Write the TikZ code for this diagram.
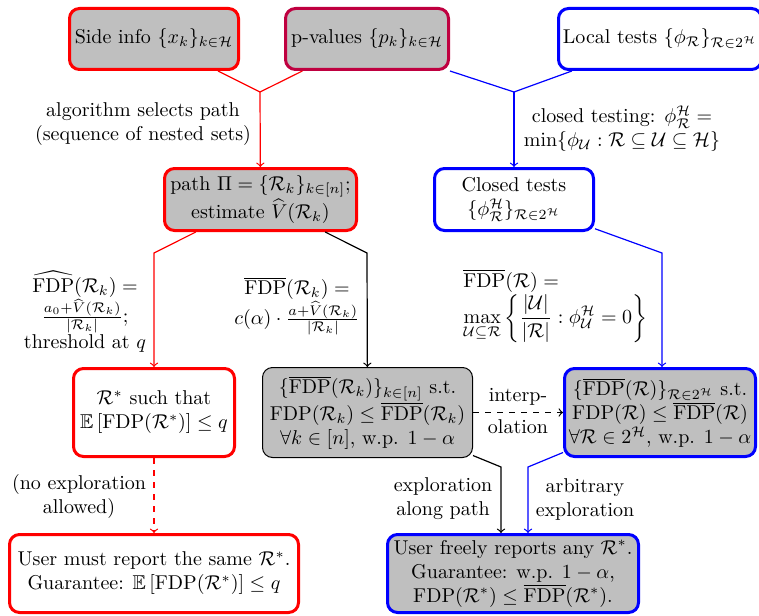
\documentclass[tikz,border=0pt]{standalone}
\usepackage{amsmath,amssymb}
\begin{document}
\begin{tikzpicture}[x=0.5pt,y=-0.5pt,
  box/.style={rectangle,rounded corners=5pt,line width=1.5pt,align=center,inner sep=2pt},
  redbox/.style={box,draw=red},
  bluebox/.style={box,draw=blue},
  gfill/.style={fill=lightgray},
  conn/.style={semithick},
  lbl/.style={align=center,inner sep=0pt}
]
\clip (0,0) rectangle (759,615);
% boxes
\node[redbox,gfill,minimum width=84.5pt,minimum height=30.5pt] (si) at (154,39)
  {Side info $\{x_k\}_{k\in\mathcal H}$};
\node[box,draw=purple,gfill,minimum width=81.5pt,minimum height=30.5pt] (pv) at (367,39)
  {p-values $\{p_k\}_{k\in\mathcal H}$};
\node[bluebox,fill=white,minimum width=101.5pt,minimum height=30.5pt] (lt) at (660,39)
  {Local tests $\{\phi_{\mathcal R}\}_{\mathcal R\in 2^{\mathcal H}}$};
\node[redbox,gfill,minimum width=96pt,minimum height=31pt] (path) at (260.5,199.5)
  {path $\Pi=\{\mathcal R_k\}_{k\in[n]}$;\\ estimate $\widehat V(\mathcal R_k)$};
\node[bluebox,fill=white,minimum width=79.5pt,minimum height=31pt] (ct) at (514,199.5)
  {Closed tests\\ $\{\phi^{\mathcal H}_{\mathcal R}\}_{\mathcal R\in 2^{\mathcal H}}$};
\node[redbox,fill=white,minimum width=80.5pt,minimum height=44pt] (rs) at (154,412.5)
  {$\mathcal R^*$ such that\\ $\mathbb E\left[\mathrm{FDP}(\mathcal R^*)\right]\le q$};
\node[box,draw=black,line width=0.5pt,gfill,minimum width=105pt,minimum height=45pt] (fb) at (367.5,412.5)
  {$\{\overline{\mathrm{FDP}}(\mathcal R_k)\}_{k\in[n]}$ s.t.\\
   $\mathrm{FDP}(\mathcal R_k)\le\overline{\mathrm{FDP}}(\mathcal R_k)$\\
   $\forall k\in[n]$, w.p. $1-\alpha$};
\node[bluebox,gfill,minimum width=95.5pt,minimum height=44pt] (rb) at (660,412.5)
  {$\{\overline{\mathrm{FDP}}(\mathcal R)\}_{\mathcal R\in 2^{\mathcal H}}$ s.t.\\
   $\mathrm{FDP}(\mathcal R)\le\overline{\mathrm{FDP}}(\mathcal R)$\\
   $\forall\mathcal R\in 2^{\mathcal H}$, w.p. $1-\alpha$};
\node[redbox,fill=white,minimum width=144.5pt,minimum height=39pt] (u1) at (154,573.5)
  {User must report the same $\mathcal R^*$.\\
   Guarantee: $\mathbb E\left[\mathrm{FDP}(\mathcal R^*)\right]\le q$};
\node[bluebox,gfill,minimum width=125.5pt,minimum height=39pt] (u2) at (513,573.5)
  {User freely reports any $\mathcal R^*$.\\
   Guarantee: w.p. $1-\alpha$,\\
   $\mathrm{FDP}(\mathcal R^*)\le\overline{\mathrm{FDP}}(\mathcal R^*)$.};
% junctions
\coordinate (j1) at (260,92);
\coordinate (j2) at (514,92);
\coordinate (c3) at (154,253);
\coordinate (c4) at (367,253);
\coordinate (c5) at (662,253);
\coordinate (c6) at (501,467);
\coordinate (c7) at (528,467);
% connectors
\draw[conn,red] (si) -- (j1);
\draw[conn,red] (pv) -- (j1);
\draw[conn,red,->] (j1) -- (path);
\draw[conn,blue] (pv.south east) -- (j2);
\draw[conn,blue] (lt) -- (j2);
\draw[conn,blue,->] (j2) -- (ct);
\draw[conn,red,->] (path) -- (c3) -- (rs);
\draw[conn,black,->] (path) -- (c4) -- (fb);
\draw[conn,blue,->] (ct) -- (c5) -- (c5 |- rb.north);
\draw[conn,red,dashed,->] (rs) -- (u1);
\draw[conn,black,dashed,->] (fb) -- (rb)
  node[midway,above=2.5pt,inner sep=1pt] {interp-}
  node[midway,below=2.5pt,inner sep=1pt] {olation};
\draw[conn,black,->] (fb) -- (c6) -- (c6 |- u2.north);
\draw[conn,blue,->] (rb) -- (c7) -- (c7 |- u2.north);
% labels
\node[lbl] (l1) at (143,124) {algorithm selects path\\(sequence of nested sets)};
\node[lbl] (l2) at (622,129) {closed testing: $\phi^{\mathcal H}_{\mathcal R}=$\\
  $\min\{\phi_{\mathcal U}:\mathcal R\subseteq\mathcal U\subseteq\mathcal H\}$};
\node[lbl] (l3) at (85,312) {$\widehat{\mathrm{FDP}}(\mathcal R_k)=$\\
  $\frac{a_0+\widehat V(\mathcal R_k)}{|\mathcal R_k|}$;\\ threshold at $q$};
\node[lbl] (l4) at (297,306) {$\overline{\mathrm{FDP}}(\mathcal R_k)=$\\
  $c(\alpha)\cdot\frac{a+\widehat V(\mathcal R_k)}{|\mathcal R_k|}$};
\node[lbl,align=left,anchor=west] (l5) at (463,306) {$\overline{\mathrm{FDP}}(\mathcal R)=$\\
  $\displaystyle\max_{\mathcal U\subseteq\mathcal R}\left\{\frac{|\mathcal U|}{|\mathcal R|}:\phi^{\mathcal H}_{\mathcal U}=0\right\}$};
\node[lbl] (l6) at (79,496) {(no exploration\\allowed)};
\node[lbl] (l7) at (443,499) {exploration\\along path};
\node[lbl] (l8) at (585,499) {arbitrary\\exploration};
\end{tikzpicture}
\end{document}
